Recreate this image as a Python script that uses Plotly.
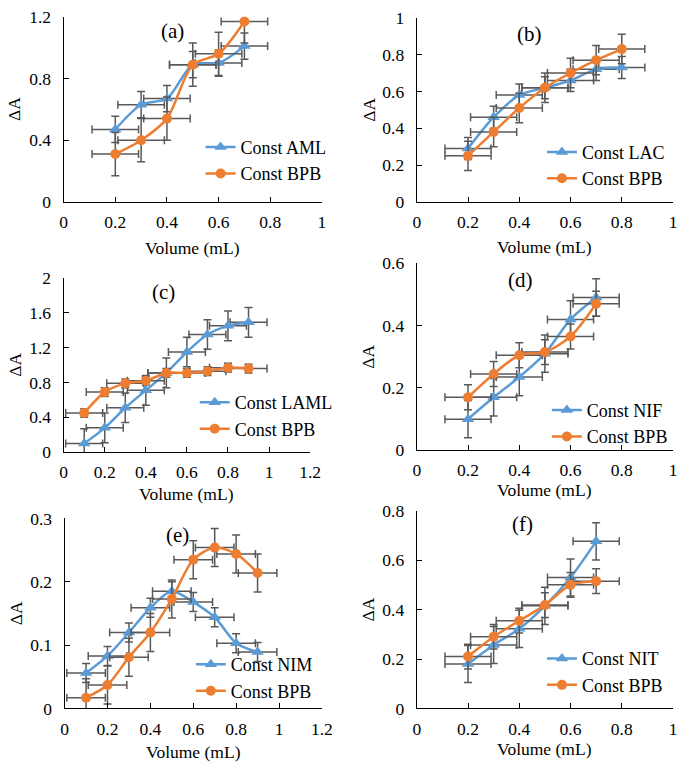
import plotly.graph_objects as go

W, H = 685, 773
BLUE = "#5B9BD5"
ORANGE = "#ED7D31"
ERR = "#595959"
FONT = "Liberation Serif, Times New Roman, serif"

# ---- data ----
x_a = [0.2, 0.3, 0.4, 0.5, 0.6, 0.7]
aml_a = [0.47, 0.63, 0.67, 0.89, 0.90, 1.01]
bpb_a = [0.31, 0.40, 0.54, 0.89, 0.96, 1.17]

x_b = [0.2, 0.3, 0.4, 0.5, 0.6, 0.7, 0.8]
lac_b = [0.29, 0.46, 0.58, 0.62, 0.66, 0.72, 0.73]
bpb_b = [0.25, 0.38, 0.51, 0.62, 0.70, 0.77, 0.83]

x_c = [0.1, 0.2, 0.3, 0.4, 0.5, 0.6, 0.7, 0.8, 0.9]
laml_c = [0.10, 0.28, 0.51, 0.71, 0.91, 1.15, 1.35, 1.45, 1.49]
bpb_c = [0.45, 0.69, 0.79, 0.82, 0.91, 0.91, 0.93, 0.97, 0.96]

x_d = [0.2, 0.3, 0.4, 0.5, 0.6, 0.7]
nif_d = [0.10, 0.17, 0.235, 0.31, 0.42, 0.49]
bpb_d = [0.17, 0.245, 0.305, 0.315, 0.365, 0.47]

x_e = [0.1, 0.2, 0.3, 0.4, 0.5, 0.6, 0.7, 0.8, 0.9]
nim_e = [0.056, 0.083, 0.12, 0.159, 0.185, 0.168, 0.144, 0.103, 0.089]
bpb_e = [0.017, 0.037, 0.081, 0.12, 0.173, 0.235, 0.254, 0.244, 0.214]

x_f = [0.2, 0.3, 0.4, 0.5, 0.6, 0.7]
nit_f = [0.18, 0.257, 0.322, 0.415, 0.53, 0.676]
bpb_f = [0.21, 0.29, 0.355, 0.418, 0.50, 0.515]

# error bar sizes (x, drug, BPB)
x_err = 0.09
y_err = {"a": (0.085, 0.14), "b": (0.06, 0.08), "c": (0.17, 0.05),
         "d": (0.06, 0.04), "e": (0.015, 0.03), "f": (0.075, 0.05)}

panels = [
    # key, x, drug, bpb, drug name, x max, y max, y dtick, pixel box (l, r, top, bottom)
    ("a", x_a, aml_a, bpb_a, "Const AML", 1.0, 1.2, 0.4, (61, 325, 7, 197)),
    ("b", x_b, lac_b, bpb_b, "Const LAC", 1.0, 1.0, 0.2, (422, 684, 8, 197)),
    ("c", x_c, laml_c, bpb_c, "Const LAML", 1.2, 2.0, 0.4, (61, 313, 275, 454)),
    ("d", x_d, nif_d, bpb_d, "Const NIF", 1.0, 0.6, 0.2, (422, 684, 260, 452)),
    ("e", x_e, nim_e, bpb_e, "Const NIM", 1.2, 0.3, 0.1, (62, 325, 522, 717)),
    ("f", x_f, nit_f, bpb_f, "Const NIT", 1.0, 0.8, 0.2, (422, 684, 514, 717)),
]

# per-panel text positions in pixels: label, legend(left, top), ΔA x, Volume y
text_pos = {
    "a": ((172, 22), (201, 122), 11, 244),
    "b": ((537, 25), (550, 127), 373, 243),
    "c": ((163, 290), (195, 384), 11, 497),
    "d": ((528, 277), (555, 392), 372, 493),
    "e": ((177, 539), (191, 653), 13, 762),
    "f": ((530, 528), (550, 647), 372, 759),
}


def px(x):
    return min(max(x / W, 0), 1)


def py(y):
    return min(max(1 - y / H, 0), 1)


def note(text, x, y, size, angle=0):
    return dict(text=text, x=px(x), y=py(y), xref="paper", yref="paper",
                xanchor="center", yanchor="middle", showarrow=False, textangle=angle,
                font=dict(family=FONT, size=size, color="black"))


fig = go.Figure()
annotations = []
layout = {}

for i, (key, xs, drug, bpb, name, xmax, ymax, dy, box) in enumerate(panels):
    n = "" if i == 0 else str(i + 1)
    l, r, t, b = box
    leg = "legend" if i == 0 else f"legend{i + 1}"
    ed, eb = y_err[key]

    for ys, color, sym, label, e in [(drug, BLUE, "triangle-up", name, ed),
                                      (bpb, ORANGE, "circle", "Const BPB", eb)]:
        fig.add_trace(go.Scatter(
            x=xs, y=ys, name=label, xaxis="x" + n, yaxis="y" + n, legend=leg,
            mode="lines+markers",
            line=dict(color=color, width=2.5, shape="spline", smoothing=0.8),
            marker=dict(symbol=sym, size=10 if sym == "circle" else 11, color=color),
            error_x=dict(type="constant", value=x_err, color=ERR, thickness=1.5, width=4),
            error_y=dict(type="constant", value=e, color=ERR, thickness=1.5, width=4),
        ))

    layout["xaxis" + n] = dict(
        domain=[px(l), px(r)], anchor="y" + n, range=[0, xmax], dtick=0.2,
        showline=True, linecolor="black", linewidth=1.2, ticks="inside",
        ticklen=5, tickcolor="black", showgrid=False, zeroline=False,
        ticklabelstandoff=4,
        tickfont=dict(family=FONT, size=17.5, color="black"),
    )
    layout["yaxis" + n] = dict(
        domain=[py(b), py(t)], anchor="x" + n, range=[0, ymax], dtick=dy,
        showline=True, linecolor="black", linewidth=1.2, ticks="inside",
        ticklen=5, tickcolor="black", showgrid=False, zeroline=False,
        ticklabelstandoff=8,
        tickfont=dict(family=FONT, size=17.5, color="black"),
    )

    (lx, ly), (gx, gy), ax, vy = text_pos[key]
    layout[leg] = dict(
        x=px(gx), y=py(gy), xanchor="left", yanchor="top",
        bgcolor="rgba(0,0,0,0)", font=dict(family=FONT, size=18, color="black"),
        tracegroupgap=0, itemwidth=30,
    )
    annotations.append(note(f"({key})", lx, ly, 21))
    annotations.append(note("ΔA", ax, (t + b) / 2, 17.5, -90))
    annotations.append(note("Volume (mL)", (l + r) / 2, vy, 17.5))

fig.update_layout(
    width=W, height=H,
    margin=dict(l=0, r=0, t=0, b=0),
    plot_bgcolor="white", paper_bgcolor="white",
    showlegend=True,
    annotations=annotations,
    **layout,
)

# figure fills the page exactly (no default body margin), no toolbar
fig.write_html("out.html", config={"displayModeBar": False},
               post_script="document.body.style.margin='0';")
